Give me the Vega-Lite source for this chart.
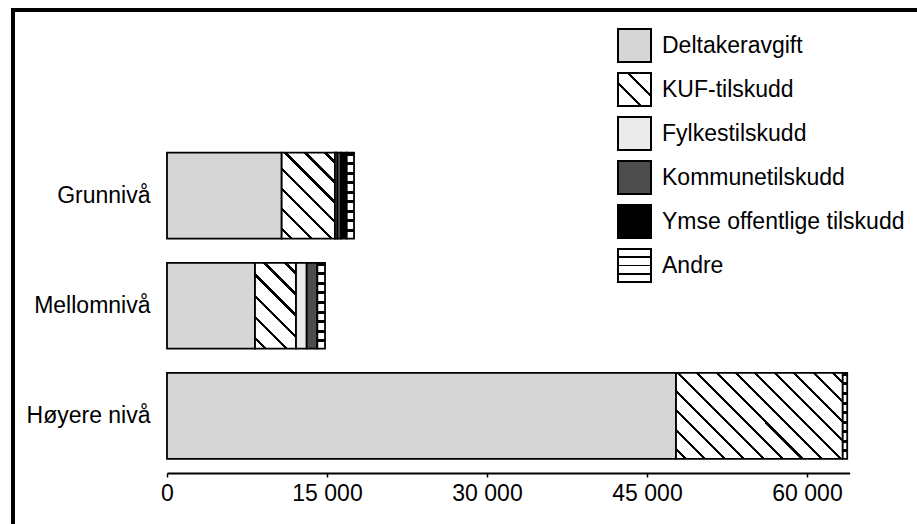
{
  "$schema": "https://vega.github.io/schema/vega-lite/v6.json",
  "width": 920,
  "height": 530,
  "autosize": {"type": "none"},
  "padding": {"left": 13, "top": 10, "right": 0, "bottom": 0},
  "background": "white",
  "config": {
    "font": "Liberation Sans",
    "view": {"stroke": "black", "strokeWidth": 4, "fill": "white"}
  },
  "data": {
    "values": [
      {"level": "Grunnivå", "type": "Deltakeravgift", "value": 10750},
      {"level": "Grunnivå", "type": "KUF-tilskudd", "value": 5000},
      {"level": "Grunnivå", "type": "Fylkestilskudd", "value": 215},
      {"level": "Grunnivå", "type": "Kommunetilskudd", "value": 350},
      {"level": "Grunnivå", "type": "Ymse offentlige tilskudd", "value": 535},
      {"level": "Grunnivå", "type": "Andre", "value": 685},
      {"level": "Mellomnivå", "type": "Deltakeravgift", "value": 8250},
      {"level": "Mellomnivå", "type": "KUF-tilskudd", "value": 3845},
      {"level": "Mellomnivå", "type": "Fylkestilskudd", "value": 1000},
      {"level": "Mellomnivå", "type": "Kommunetilskudd", "value": 1000},
      {"level": "Mellomnivå", "type": "Andre", "value": 720},
      {"level": "Høyere nivå", "type": "Deltakeravgift", "value": 47720},
      {"level": "Høyere nivå", "type": "KUF-tilskudd", "value": 15630},
      {"level": "Høyere nivå", "type": "Andre", "value": 420}
    ]
  },
  "transform": [
    {"calculate": "indexof(['Deltakeravgift','KUF-tilskudd','Fylkestilskudd','Kommunetilskudd','Ymse offentlige tilskudd','Andre'], datum.type)", "as": "ord"}
  ],
  "mark": {"type": "bar", "strokeWidth": 1.8},
  "encoding": {
    "y": {
      "field": "level", "type": "nominal",
      "sort": ["Grunnivå", "Mellomnivå", "Høyere nivå"],
      "scale": {"range": [130.5, 461], "paddingInner": 0.22, "paddingOuter": 0.11},
      "axis": {"title": null, "domain": false, "ticks": false, "tickSize": 0, "labelPadding": 0, "offset": -137, "labelFontSize": 23, "labelColor": "black", "labelFont": "Liberation Sans"}
    },
    "x": {
      "field": "value", "type": "quantitative", "stack": "zero",
      "scale": {"domain": [0, 64000], "range": [154, 836.67], "nice": false},
      "axis": {"title": null, "values": [0, 15000, 30000, 45000, 60000], "labelExpr": "replace(format(datum.value, ','), ',', ' ')", "grid": false, "offset": -67, "domainColor": "black", "domainWidth": 2, "tickColor": "black", "tickSize": 4, "tickWidth": 1.5, "labelPadding": 5, "labelFontSize": 23, "labelColor": "black", "labelFlush": false, "labelFont": "Liberation Sans"}
    },
    "order": {"field": "ord", "type": "quantitative"},
    "stroke": {
      "field": "type", "type": "nominal",
      "scale": {
        "domain": ["Deltakeravgift", "KUF-tilskudd", "Fylkestilskudd", "Kommunetilskudd", "Ymse offentlige tilskudd", "Andre"],
        "range": ["black", "black", "black", "black", "black", "black"]
      }
    },
    "color": {
      "condition": [
        {"test": "datum.type === 'KUF-tilskudd' && datum.level === 'Grunnivå'", "value": {"gradient": "linear", "x1": 0, "y1": 1, "x2": 0.726, "y2": -0.17, "stops": [
          {"offset": 0, "color": "white"},
          {"offset": 0.060, "color": "white"}, {"offset": 0.060, "color": "black"}, {"offset": 0.083, "color": "black"}, {"offset": 0.083, "color": "white"},
          {"offset": 0.203, "color": "white"}, {"offset": 0.203, "color": "black"}, {"offset": 0.226, "color": "black"}, {"offset": 0.226, "color": "white"},
          {"offset": 0.346, "color": "white"}, {"offset": 0.346, "color": "black"}, {"offset": 0.369, "color": "black"}, {"offset": 0.369, "color": "white"},
          {"offset": 0.489, "color": "white"}, {"offset": 0.489, "color": "black"}, {"offset": 0.511, "color": "black"}, {"offset": 0.511, "color": "white"},
          {"offset": 0.631, "color": "white"}, {"offset": 0.631, "color": "black"}, {"offset": 0.654, "color": "black"}, {"offset": 0.654, "color": "white"},
          {"offset": 0.774, "color": "white"}, {"offset": 0.774, "color": "black"}, {"offset": 0.797, "color": "black"}, {"offset": 0.797, "color": "white"},
          {"offset": 0.917, "color": "white"}, {"offset": 0.917, "color": "black"}, {"offset": 0.940, "color": "black"}, {"offset": 0.940, "color": "white"},
          {"offset": 1, "color": "white"}
        ]}},
        {"test": "datum.type === 'KUF-tilskudd' && datum.level === 'Mellomnivå'", "value": {"gradient": "linear", "x1": 0, "y1": 1, "x2": 0.574, "y2": -0.203, "stops": [
          {"offset": 0, "color": "white"},
          {"offset": 0.070, "color": "white"}, {"offset": 0.070, "color": "black"}, {"offset": 0.097, "color": "black"}, {"offset": 0.097, "color": "white"},
          {"offset": 0.237, "color": "white"}, {"offset": 0.237, "color": "black"}, {"offset": 0.263, "color": "black"}, {"offset": 0.263, "color": "white"},
          {"offset": 0.403, "color": "white"}, {"offset": 0.403, "color": "black"}, {"offset": 0.430, "color": "black"}, {"offset": 0.430, "color": "white"},
          {"offset": 0.570, "color": "white"}, {"offset": 0.570, "color": "black"}, {"offset": 0.597, "color": "black"}, {"offset": 0.597, "color": "white"},
          {"offset": 0.737, "color": "white"}, {"offset": 0.737, "color": "black"}, {"offset": 0.763, "color": "black"}, {"offset": 0.763, "color": "white"},
          {"offset": 0.903, "color": "white"}, {"offset": 0.903, "color": "black"}, {"offset": 0.930, "color": "black"}, {"offset": 0.930, "color": "white"},
          {"offset": 1, "color": "white"}
        ]}},
        {"test": "datum.type === 'KUF-tilskudd' && datum.level === 'Høyere nivå'", "value": {"gradient": "linear", "x1": 0, "y1": 1, "x2": 1.198, "y2": 0.383, "stops": [
          {"offset": 0, "color": "white"},
          {"offset": 0.032, "color": "white"}, {"offset": 0.032, "color": "black"}, {"offset": 0.045, "color": "black"}, {"offset": 0.045, "color": "white"},
          {"offset": 0.109, "color": "white"}, {"offset": 0.109, "color": "black"}, {"offset": 0.122, "color": "black"}, {"offset": 0.122, "color": "white"},
          {"offset": 0.186, "color": "white"}, {"offset": 0.186, "color": "black"}, {"offset": 0.199, "color": "black"}, {"offset": 0.199, "color": "white"},
          {"offset": 0.263, "color": "white"}, {"offset": 0.263, "color": "black"}, {"offset": 0.275, "color": "black"}, {"offset": 0.275, "color": "white"},
          {"offset": 0.340, "color": "white"}, {"offset": 0.340, "color": "black"}, {"offset": 0.352, "color": "black"}, {"offset": 0.352, "color": "white"},
          {"offset": 0.417, "color": "white"}, {"offset": 0.417, "color": "black"}, {"offset": 0.429, "color": "black"}, {"offset": 0.429, "color": "white"},
          {"offset": 0.494, "color": "white"}, {"offset": 0.494, "color": "black"}, {"offset": 0.506, "color": "black"}, {"offset": 0.506, "color": "white"},
          {"offset": 0.571, "color": "white"}, {"offset": 0.571, "color": "black"}, {"offset": 0.583, "color": "black"}, {"offset": 0.583, "color": "white"},
          {"offset": 0.648, "color": "white"}, {"offset": 0.648, "color": "black"}, {"offset": 0.660, "color": "black"}, {"offset": 0.660, "color": "white"},
          {"offset": 0.725, "color": "white"}, {"offset": 0.725, "color": "black"}, {"offset": 0.737, "color": "black"}, {"offset": 0.737, "color": "white"},
          {"offset": 0.802, "color": "white"}, {"offset": 0.802, "color": "black"}, {"offset": 0.814, "color": "black"}, {"offset": 0.814, "color": "white"},
          {"offset": 0.878, "color": "white"}, {"offset": 0.878, "color": "black"}, {"offset": 0.891, "color": "black"}, {"offset": 0.891, "color": "white"},
          {"offset": 0.955, "color": "white"}, {"offset": 0.955, "color": "black"}, {"offset": 0.968, "color": "black"}, {"offset": 0.968, "color": "white"},
          {"offset": 1, "color": "white"}
        ]}},
        {"test": "datum.type === 'Andre'", "value": {"gradient": "linear", "x1": 0, "y1": 0, "x2": 0, "y2": 1, "stops": [
          {"offset": 0, "color": "black"}, {"offset": 0.035, "color": "black"}, {"offset": 0.035, "color": "white"},
          {"offset": 0.111, "color": "white"}, {"offset": 0.111, "color": "black"}, {"offset": 0.146, "color": "black"}, {"offset": 0.146, "color": "white"},
          {"offset": 0.222, "color": "white"}, {"offset": 0.222, "color": "black"}, {"offset": 0.257, "color": "black"}, {"offset": 0.257, "color": "white"},
          {"offset": 0.333, "color": "white"}, {"offset": 0.333, "color": "black"}, {"offset": 0.368, "color": "black"}, {"offset": 0.368, "color": "white"},
          {"offset": 0.444, "color": "white"}, {"offset": 0.444, "color": "black"}, {"offset": 0.479, "color": "black"}, {"offset": 0.479, "color": "white"},
          {"offset": 0.556, "color": "white"}, {"offset": 0.556, "color": "black"}, {"offset": 0.591, "color": "black"}, {"offset": 0.591, "color": "white"},
          {"offset": 0.667, "color": "white"}, {"offset": 0.667, "color": "black"}, {"offset": 0.702, "color": "black"}, {"offset": 0.702, "color": "white"},
          {"offset": 0.778, "color": "white"}, {"offset": 0.778, "color": "black"}, {"offset": 0.813, "color": "black"}, {"offset": 0.813, "color": "white"},
          {"offset": 0.889, "color": "white"}, {"offset": 0.889, "color": "black"}, {"offset": 0.924, "color": "black"}, {"offset": 0.924, "color": "white"},
          {"offset": 1, "color": "white"}
        ]}}
      ],
      "field": "type", "type": "nominal",
      "scale": {
        "domain": ["Deltakeravgift", "KUF-tilskudd", "Fylkestilskudd", "Kommunetilskudd", "Ymse offentlige tilskudd", "Andre"],
        "range": [
          "#d6d6d6",
          {"expr": "{gradient: 'linear', x1: 0, y1: 1, x2: 1, y2: 0, stops: [{offset: 0, color: 'white'}, {offset: 0.32, color: 'white'}, {offset: 0.32, color: 'black'}, {offset: 0.37, color: 'black'}, {offset: 0.37, color: 'white'}, {offset: 0.63, color: 'white'}, {offset: 0.63, color: 'black'}, {offset: 0.68, color: 'black'}, {offset: 0.68, color: 'white'}, {offset: 1, color: 'white'}]}"},
          "#ebebeb",
          "#4d4d4d",
          "#000000",
          {"expr": "{gradient: 'linear', x1: 0, y1: 0, x2: 0, y2: 1, stops: [{offset: 0, color: 'white'}, {offset: 0.22, color: 'white'}, {offset: 0.22, color: 'black'}, {offset: 0.28, color: 'black'}, {offset: 0.28, color: 'white'}, {offset: 0.47, color: 'white'}, {offset: 0.47, color: 'black'}, {offset: 0.53, color: 'black'}, {offset: 0.53, color: 'white'}, {offset: 0.72, color: 'white'}, {offset: 0.72, color: 'black'}, {offset: 0.78, color: 'black'}, {offset: 0.78, color: 'white'}, {offset: 1, color: 'white'}]}"}
        ]
      },
      "legend": {
        "orient": "none", "legendX": 604, "legendY": 18, "title": null,
        "symbolType": "square", "symbolSize": 1089, "symbolStrokeWidth": 2,
        "labelFontSize": 23, "labelColor": "black", "labelFont": "Liberation Sans", "labelOffset": 10, "labelLimit": 400,
        "rowPadding": 3, "padding": 0, "symbolOpacity": 1
      }
    }
  }
}
